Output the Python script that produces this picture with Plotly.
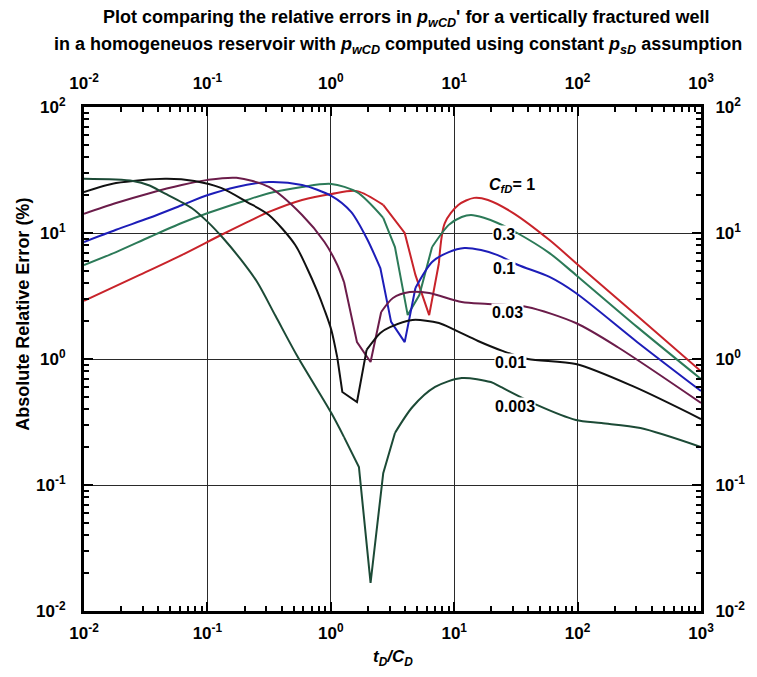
import math
import plotly.graph_objects as go

# ---- data (t_D/C_D, absolute relative error %) ----
t_c1 = [0.01, 0.0283, 0.0619, 0.129, 0.210, 0.315, 0.585, 1.01, 1.63, 2.66, 3.97, 4.85, 6.27,
        7.52, 8.39, 10.8, 14.5, 18.8, 30.1, 59.2, 96.8, 305, 1000]
e_c1 = [2.9, 4.65, 6.68, 9.64, 12.2, 14.7, 18.3, 20.4, 21.5, 16.7, 10.0, 4.65, 2.23,
        5.78, 12.0, 16.7, 19.0, 18.3, 14.4, 8.79, 5.78, 2.19, 0.80]

t_c03 = [0.01, 0.0182, 0.0340, 0.0619, 0.101, 0.210, 0.315, 0.585, 1.01, 1.63, 2.66, 3.31, 4.20,
         5.22, 6.62, 9.04, 11.5, 13.7, 17.4, 22.5, 32.4, 59.2, 96.8, 305, 1000]
e_c03 = [5.57, 7.06, 9.29, 12.0, 14.4, 18.3, 20.7, 23.2, 24.5, 21.1, 13.2, 7.74, 2.23,
         3.22, 7.74, 11.6, 13.4, 13.9, 13.2, 12.0, 10.0, 6.93, 4.65, 1.79, 0.693]

t_c01 = [0.01, 0.0182, 0.0340, 0.0619, 0.101, 0.172, 0.315, 0.585, 1.01, 1.46, 1.95, 2.52, 3.08,
         3.97, 4.85, 6.62, 9.04, 12.1, 16.5, 22.5, 33.0, 59.2, 96.8, 305, 1000]
e_c01 = [8.49, 10.6, 13.2, 16.6, 20.0, 23.2, 25.4, 24.0, 19.7, 14.7, 9.12, 5.27, 1.97,
         1.36, 3.66, 5.89, 7.06, 7.60, 7.33, 6.68, 5.57, 4.48, 3.34, 1.36, 0.557]

t_c003 = [0.01, 0.0182, 0.0340, 0.0619, 0.101, 0.172, 0.315, 0.585, 0.889, 1.13, 1.28, 1.63, 2.10,
          2.56, 3.19, 4.36, 6.27, 11.5, 18.8, 38.9, 96.8, 212, 1000]
e_c003 = [14.2, 17.3, 20.7, 24.0, 26.4, 27.4, 23.2, 13.9, 8.49, 5.57, 4.08, 1.36, 0.946,
          2.36, 3.05, 3.40, 3.34, 2.83, 2.73, 2.59, 1.93, 1.24, 0.448]

t_c001 = [0.01, 0.0182, 0.0455, 0.0785, 0.129, 0.210, 0.315, 0.515, 0.641, 0.769, 0.889, 1.01,
          1.13, 1.24, 1.63, 1.95, 2.52, 3.02, 4.59, 7.52, 10.1, 15.6, 24.6, 39.5, 96.8, 289, 1000]
e_c001 = [21.1, 24.9, 26.9, 25.9, 22.8, 17.6, 13.9, 8.04, 5.27, 3.53, 2.45, 1.70,
          1.02, 0.547, 0.456, 1.18, 1.61, 1.79, 2.04, 1.93, 1.70, 1.39, 1.16, 1.0, 0.912, 0.600, 0.334]

t_c0003 = [0.01, 0.0249, 0.0340, 0.0431, 0.0745, 0.101, 0.136, 0.185, 0.253, 0.357, 0.533, 1.01,
           1.28, 1.69, 2.10, 2.66, 3.31, 4.59, 7.00, 11.5, 19.8, 23.8, 46.7, 96.8, 156, 323, 1000]
e_c0003 = [26.9, 25.9, 23.8, 21.1, 15.8, 12.2, 8.96, 6.22, 4.08, 2.19, 1.06, 0.372,
           0.240, 0.139, 0.0167, 0.124, 0.259, 0.416, 0.600, 0.706, 0.656, 0.600, 0.432, 0.328, 0.310, 0.283, 0.200]

series_t = [t_c1, t_c03, t_c01, t_c003, t_c001, t_c0003]
series_e = [e_c1, e_c03, e_c01, e_c003, e_c001, e_c0003]
series_names = ["CfD = 1", "0.3", "0.1", "0.03", "0.01", "0.003"]
series_colors = ["#c8232a", "#2c7a58", "#1d1db8", "#6b1c4a", "#111111", "#1c4a36"]
# index range around each minimum drawn as straight segments (reference is piecewise there)
kink_ranges = [(9, 13), (10, 14), (11, 14), (10, 13), (12, 15), (12, 16)]

label_texts = ["<i>C<sub>fD</sub></i>= 1", "0.3", "0.1", "0.03", "0.01", "0.003"]
label_t = [29.6, 25.1, 25.5, 27.0, 28.5, 31.2]
label_e = [24.0, 9.8, 5.27, 2.32, 0.93, 0.416]

decades = [0.01, 0.1, 1, 10, 100, 1000]
decade_text = ["10<sup>-2</sup>", "10<sup>-1</sup>", "10<sup>0</sup>", "10<sup>1</sup>",
               "10<sup>2</sup>", "10<sup>3</sup>"]
y_decades = [0.01, 0.1, 1, 10, 100]
y_decade_text = ["10<sup>-2</sup>", "10<sup>-1</sup>", "10<sup>0</sup>", "10<sup>1</sup>", "10<sup>2</sup>"]

fig = go.Figure()
for t, e, n, c, (a, b) in zip(series_t, series_e, series_names, series_colors, kink_ranges):
    parts = [(0, a, "spline"), (a, b, "linear"), (b, len(t) - 1, "spline")]
    for i0, i1, shape in parts:
        fig.add_trace(go.Scatter(x=t[i0:i1 + 1], y=e[i0:i1 + 1], mode="lines", name=n,
                                 line=dict(color=c, width=2, shape=shape,
                                           smoothing=0.8 if shape == "spline" else None),
                                 showlegend=False))

# invisible trace that activates the mirrored (top/right) labelled axes
fig.add_trace(go.Scatter(x=[0.01, 1000], y=[0.01, 100], mode="markers", xaxis="x2", yaxis="y2",
                         marker=dict(opacity=0), hoverinfo="skip", showlegend=False))

FONT = "Liberation Sans, Arial, sans-serif"
tickfont = dict(family=FONT, size=17, color="black", weight="bold")


def minor_vals(lo, hi):
    return [m * 10 ** k for k in range(lo, hi) for m in range(2, 10)]


def axis(vals, texts, rng, lo, hi, standoff, **kw):
    return dict(type="log", range=rng, tickmode="array", tickvals=vals, ticktext=texts,
                ticks="inside", ticklen=9, tickwidth=2, tickcolor="black",
                showline=True, linewidth=3, linecolor="black", tickfont=tickfont,
                ticklabelstandoff=standoff,
                minor=dict(ticks="inside", ticklen=5, tickwidth=2, tickcolor="black",
                           tickmode="array", tickvals=minor_vals(lo, hi), showgrid=False),
                zeroline=False, **kw)


fig.update_layout(
    width=757, height=677,
    margin=dict(l=84, r=42, t=107, b=66),
    paper_bgcolor="white", plot_bgcolor="white",
    xaxis=axis(decades, decade_text, [-2, 3], -2, 3, 5,
               showgrid=True, gridcolor="#2a2a2a", gridwidth=1),
    yaxis=axis(y_decades, y_decade_text, [-2, 2], -2, 2, 12,
               showgrid=True, gridcolor="#2a2a2a", gridwidth=1),
    xaxis2=axis(decades, decade_text, [-2, 3], -2, 3, 8,
                overlaying="x", side="top", anchor="y", showgrid=False),
    yaxis2=axis(y_decades, y_decade_text, [-2, 2], -2, 2, 8,
                overlaying="y", side="right", anchor="x", showgrid=False),
)

for txt, lt, le in zip(label_texts, label_t, label_e):
    fig.add_annotation(x=math.log10(lt), y=math.log10(le), xref="x", yref="y", text=txt,
                       showarrow=False, bgcolor="white", borderpad=0,
                       font=dict(family=FONT, size=16, color="black", weight="bold"))

title_lines = [
    "Plot comparing the relative errors in <i>p<sub>wCD</sub></i>' for a vertically fractured well",
    "in a homogeneuos reservoir with <i>p<sub>wCD</sub></i> computed using constant "
    "<i>p<sub>sD</sub></i> assumption",
]
for txt, xp, yp in zip(title_lines, [0.522, 0.509], [1.176, 1.123]):
    fig.add_annotation(x=xp, y=yp, xref="paper", yref="paper", text=txt, showarrow=False,
                       xanchor="center", yanchor="middle",
                       font=dict(family=FONT, size=18, color="black", weight="bold"))

fig.add_annotation(x=0.5, y=-0.093, xref="paper", yref="paper",
                   text="<i>t<sub>D</sub>/C<sub>D</sub></i>", showarrow=False,
                   xanchor="center", yanchor="middle",
                   font=dict(family=FONT, size=17, color="black", weight="bold"))
fig.add_annotation(x=-0.098, y=0.589, xref="paper", yref="paper", textangle=-90,
                   text="Absolute Relative Error (%)", showarrow=False,
                   xanchor="center", yanchor="middle",
                   font=dict(family=FONT, size=18, color="black", weight="bold"))

fig.write_html("out.html")
